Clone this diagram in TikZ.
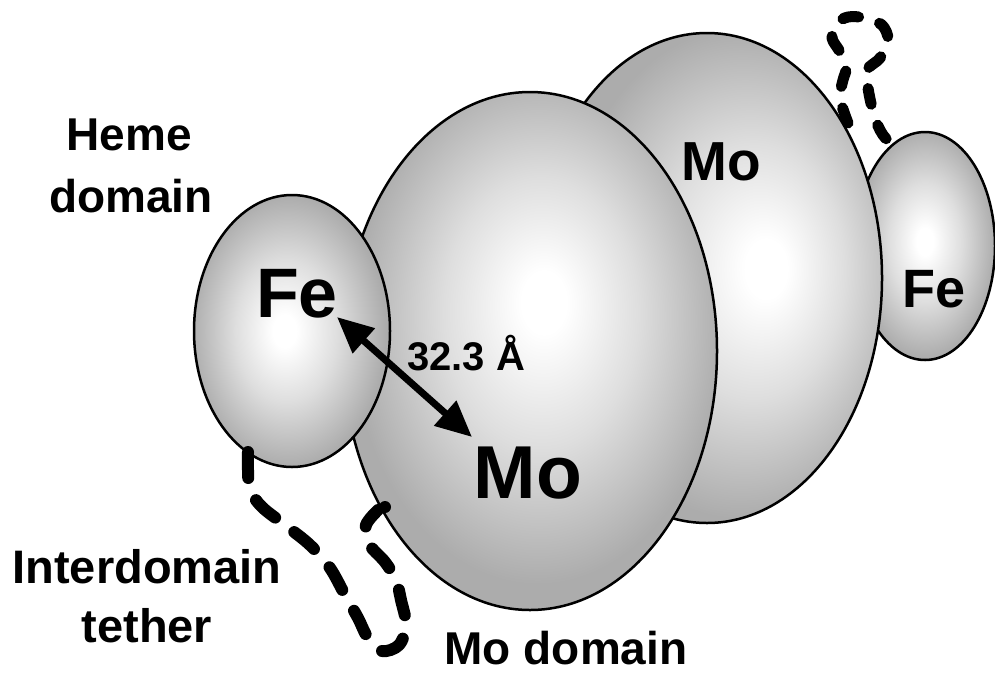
\documentclass[tikz,border=0pt]{standalone}
\usepackage{fontspec}
\setmainfont{Liberation Sans}
\usetikzlibrary{shapes.geometric,arrows.meta}
\definecolor{shEdge}{RGB}{172,172,172}
\definecolor{shMid}{RGB}{222,222,222}
\pgfdeclareradialshading{shadeFeL}{\pgfpoint{-2bp}{0bp}}{color(0bp)=(white); color(3bp)=(white); color(13bp)=(shMid); color(25bp)=(shEdge); color(50bp)=(shEdge)}
\pgfdeclareradialshading{shadeMoF}{\pgfpoint{2bp}{5bp}}{color(0bp)=(white); color(3bp)=(white); color(13bp)=(shMid); color(25bp)=(shEdge); color(50bp)=(shEdge)}
\pgfdeclareradialshading{shadeMoB}{\pgfpoint{9bp}{1bp}}{color(0bp)=(white); color(3bp)=(white); color(13bp)=(shMid); color(25bp)=(shEdge); color(50bp)=(shEdge)}
\pgfdeclareradialshading{shadeFeR}{\pgfpoint{0bp}{1bp}}{color(0bp)=(white); color(3bp)=(white); color(13bp)=(shMid); color(25bp)=(shEdge); color(50bp)=(shEdge)}
\tikzset{
  domainbody/.style={ellipse, draw=black, line width=2.5pt, inner sep=0pt, outer sep=0pt},
  lbl/.style={anchor=base, inner sep=0pt, font=\bfseries\fontsize{#1}{#1}\selectfont},
  tetherline/.style={line width=#1, line cap=round, line join=round, black},
}
\begin{document}
\begin{tikzpicture}[x=1pt,y=-1pt]
\useasboundingbox (0,0) rectangle (995,673);
% domains, back to front
\node[domainbody, shading=shadeFeR, minimum width=140pt, minimum height=228pt] (feR) at (925,246) {};
\node[domainbody, shading=shadeMoB, minimum width=350pt, minimum height=490pt] (moB) at (707,278) {};
\node[domainbody, shading=shadeMoF, minimum width=374pt, minimum height=518pt] (moF) at (530,351) {};
\node[domainbody, shading=shadeFeL, minimum width=196pt, minimum height=272pt] (feL) at (292,331) {};
% tethers
\coordinate (tL0) at (248,452);
\coordinate (tL1) at (378,510);
\draw[tetherline=12pt, dash pattern=on 26pt off 24pt]
  plot[smooth, tension=0.55] coordinates {(248,452) (248,470) (250,490) (262,507) (285,525) (310,545) (330,568) (345,595) (358,618) (368,638) (382,651) (399,645) (406,625) (401,600) (396,580) (385,562) (368,543) (366,525) (378,510)};
\fill (385,507) circle (6pt);
\coordinate (tR0) at (848,123);
\coordinate (tR1) at (900,152);
\draw[tetherline=11pt, dash pattern=on 16pt off 22pt]
  plot[smooth, tension=0.55] coordinates {(848,123) (840,98) (843,80) (846,68) (840,52) (832,38) (836,24) (848,17) (865,18) (882,25) (888,40) (880,58) (867,70) (868,88) (874,115) (883,135) (900,152)};
% distance arrow
\coordinate (a1) at (337,317);
\coordinate (a2) at (472,437);
\draw[line width=7pt, {Triangle[length=36pt,width=32pt]}-{Triangle[length=36pt,width=32pt]}] (a1) -- (a2);
% labels
\node[lbl=70] (tFeL) at (297,317) {Fe};
\node[lbl=75] (tMoF) at (528,498) {Mo};
\node[lbl=55] (tMoB) at (721,180) {Mo};
\node[lbl=54] (tFeR) at (934,307) {Fe};
\node[lbl=40] (tDist) at (466,370) {32.3 Å};
\node[lbl=46] (tHeme) at (129,150) {Heme};
\node[lbl=46] (tHeme2) at (131,212) {domain};
\node[lbl=47] (tInter) at (147,583) {Interdomain};
\node[lbl=47] (tInter2) at (147,642) {tether};
\node[lbl=46] (tMoDom) at (566,664) {Mo domain};
\end{tikzpicture}
\end{document}
